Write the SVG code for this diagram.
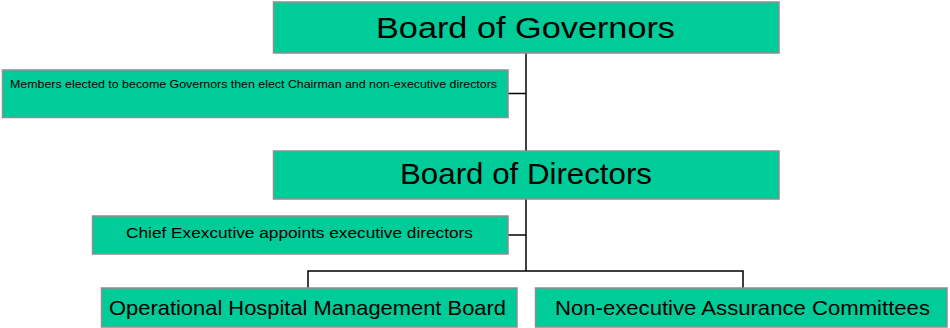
<svg xmlns="http://www.w3.org/2000/svg" width="950" height="328" viewBox="0 0 950 328">
<style>
.box{fill:#00CC99;stroke:#8f8f8f;stroke-width:1.5}
.t{font-family:"Liberation Sans",Arial,Helvetica,sans-serif;fill:#000}
.c{fill:none;stroke:#000;stroke-width:1.5}
</style>
<rect width="950" height="328" fill="#fff"/>
<g id="connectors">
<path class="c" d="M526,53 V151"/>
<path class="c" d="M508,93.5 H526"/>
<path class="c" d="M526,199 V271"/>
<path class="c" d="M508,235 H526"/>
<path class="c" d="M308,288 V271 H743 V288"/>
</g>
<g id="governors">
<rect class="box" x="273.5" y="2" width="505.5" height="51"/>
<text class="t" x="376" y="38" font-size="30" textLength="299" lengthAdjust="spacingAndGlyphs">Board of Governors</text>
</g>
<g id="members">
<rect class="box" x="2.5" y="70" width="505.5" height="47.5"/>
<text class="t" x="10" y="87.5" font-size="11" textLength="487" lengthAdjust="spacingAndGlyphs">Members elected to become Governors then elect Chairman and non-executive directors</text>
</g>
<g id="directors">
<rect class="box" x="273.5" y="151" width="505.5" height="48"/>
<text class="t" x="400" y="184" font-size="30" textLength="252" lengthAdjust="spacingAndGlyphs">Board of Directors</text>
</g>
<g id="chief">
<rect class="box" x="92.5" y="216" width="415.5" height="38"/>
<text class="t" x="126" y="237.5" font-size="15.5" textLength="347" lengthAdjust="spacingAndGlyphs">Chief Exexcutive appoints executive directors</text>
</g>
<g id="operational">
<rect class="box" x="101.5" y="288" width="415.5" height="39"/>
<text class="t" x="109" y="315" font-size="21" textLength="397" lengthAdjust="spacingAndGlyphs">Operational Hospital Management Board</text>
</g>
<g id="nonexec">
<rect class="box" x="535.5" y="288" width="411.5" height="39"/>
<text class="t" x="555" y="314.5" font-size="21" textLength="375" lengthAdjust="spacingAndGlyphs">Non-executive Assurance Committees</text>
</g>
</svg>
